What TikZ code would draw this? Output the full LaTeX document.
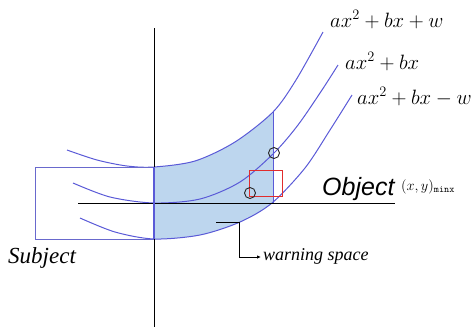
\documentclass[tikz,border=0pt]{standalone}
\usepackage{amsmath}
\usepackage{fontspec}
\usetikzlibrary{arrows.meta}
\newfontfamily\objfont{Liberation Sans}
\newfontfamily\notefont{Liberation Serif}
\definecolor{curveblue}{RGB}{90,90,215}
\definecolor{boxblue}{RGB}{105,105,205}
\definecolor{zoneblue}{RGB}{189,214,238}
\definecolor{boxred}{RGB}{225,45,45}

\begin{document}
\begin{tikzpicture}[x=1pt,y=-1pt,
  curve/.style={curveblue,line width=1pt},
  axis/.style={black,line width=0.9pt},
  probe/.style={circle,draw=black!85,line width=0.9pt,minimum size=11pt,inner sep=0pt},
  redbox/.style={draw=boxred,line width=1pt,minimum width=33pt,minimum height=26pt,inner sep=0pt},
  eqlabel/.style={anchor=base west,inner sep=0pt,font=\fontsize{20}{24}\selectfont}]
  \useasboundingbox (0,0) rectangle (474,327);

  \begin{scope}
    \clip (154,0) rectangle (273,327);
    \fill[zoneblue] plot[smooth] coordinates {(127,166) (154,167) (195,161) (235,142) (273,112) (296,80) (323,32)}
      -- plot[smooth] coordinates {(352,95) (330,130) (305,168) (272,203) (240,222) (200,235) (154,239) (115,232)} -- cycle;
  \end{scope}

  \draw[curve] plot[smooth] coordinates {(67,150) (97,160) (127,166) (154,167) (195,161) (235,142) (273,112) (296,80) (323,32)};
  \draw[curve] plot[smooth] coordinates {(73,183) (110,197) (154,203) (200,199) (240,182) (274,153) (298,125) (322,90) (338,65)};
  \draw[curve] plot[smooth] coordinates {(80,218) (115,232) (154,239) (200,235) (240,222) (272,203) (305,168) (330,130) (352,95)};

  \coordinate (zt) at (273,112);
  \coordinate (zb) at (273,203);
  \draw[curve] (zt) -- (zb);

  \coordinate (bx1) at (154,167);
  \coordinate (bx2) at (35,167);
  \coordinate (bx3) at (35,239);
  \coordinate (bx4) at (154,239);
  \draw[boxblue,line width=1pt] (bx1) -- (bx2) -- (bx3) -- (bx4);

  \coordinate (ytop) at (154,28);
  \coordinate (ybot) at (154,327);
  \coordinate (xl) at (78,203);
  \coordinate (xr) at (395,203);
  \draw[axis] (ytop) -- (ybot);
  \draw[axis] (xl) -- (xr);
  \draw[curveblue,line width=1.6pt] (bx1) -- (bx4);

  \node[redbox] (objbox) at (265.5,183) {};
  \node[probe] (p1) at (274,153) {};
  \node[probe] (p2) at (250,193) {};

  \node[eqlabel] (eq1) at (330,27) {$ax^2+bx+w$};
  \node[eqlabel] (eq2) at (345,69) {$ax^2+bx$};
  \node[eqlabel] (eq3) at (357,104) {$ax^2+bx-w$};

  \node[anchor=base west,inner sep=0pt,font=\objfont\itshape\fontsize{25}{28}\selectfont] (obj) at (322,195) {Object};
  \node[anchor=base west,inner sep=0pt,font=\fontsize{14}{16}\selectfont] (minx) at (401,190) {$(x,y)_{\mathtt{minx}}$};
  \node[anchor=base west,inner sep=0pt,font=\notefont\itshape\fontsize{23}{26}\selectfont] (subj) at (8,263) {Subject};

  \coordinate (w1) at (216,222);
  \coordinate (w2) at (239,257);
  \coordinate (w3) at (261,257);
  \node[anchor=base west,inner sep=0pt,font=\notefont\itshape\fontsize{18}{21}\selectfont] (warn) at (263,260) {warning space};
  \draw[black,line width=0.8pt] (w1) -| (w2);
  \draw[black,line width=0.8pt,-{Latex[length=4pt,width=3.5pt]}] (w2) -- (w3);
\end{tikzpicture}
\end{document}
